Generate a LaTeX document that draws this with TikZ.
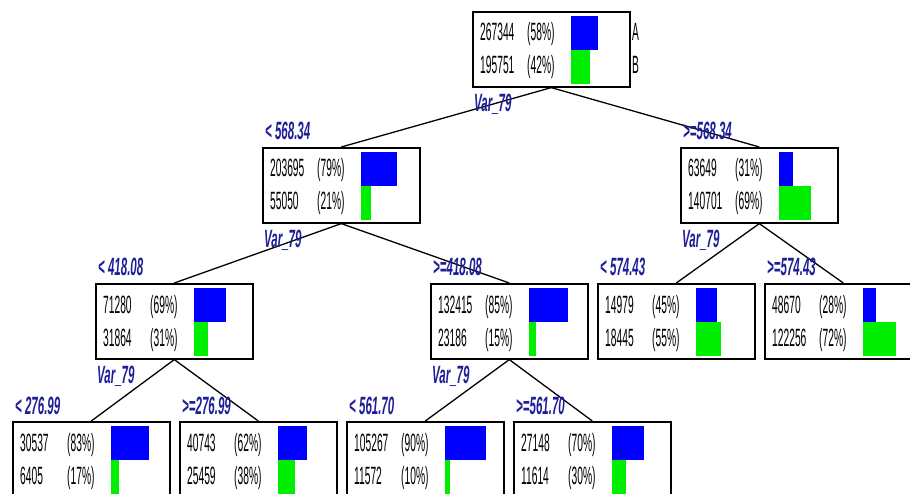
\documentclass[tikz,border=0pt]{standalone}
\usepackage{fontspec}
\setmainfont{Liberation Sans}
\newfontfamily\cntfont[FakeStretch=0.41]{Liberation Sans}
\newfontfamily\splitfont[FakeStretch=0.46]{Liberation Sans}
\usetikzlibrary{calc}
\definecolor{splitblue}{RGB}{30,30,150}
\definecolor{barblue}{RGB}{0,0,255}
\definecolor{bargreen}{RGB}{0,238,0}
\tikzset{
  treebox/.style={draw, line width=1.6pt, anchor=north west, minimum width=157pt, minimum height=75pt, inner sep=0pt},
  cnt/.style={anchor=base west, inner sep=0pt, font=\cntfont\fontsize{25}{27}\selectfont},
  split/.style={anchor=base west, inner sep=0pt, text=splitblue, font=\splitfont\fontsize{25}{27}\selectfont\bfseries\itshape},
  edge/.style={line width=1.3pt}
}
% box with two counts, two percents and the bars
\def\treebox(#1)(#2,#3)#4#5#6#7{
  \node[treebox] (#1) at (#2,#3) {};
  \node[cnt] (#1a) at (#2+8,#3+30) {#4};
  \node[cnt] (#1ap) at (#2+55,#3+30) {(#5\%)};
  \node[cnt] (#1b) at (#2+8,#3+63) {#6};
  \node[cnt] (#1bp) at (#2+55,#3+63) {(#7\%)};
  \fill[barblue] (#2+99,#3+5) rectangle ++(0.46*#5,34);
  \fill[bargreen] (#2+99,#3+39) rectangle ++(0.46*#7,34);
}

\begin{document}
\begin{tikzpicture}[x=1pt,y=-1pt]
  \clip (0,0) rectangle (910,494);
  \fill[white] (0,0) rectangle (910,494);
  %%%%% BOXES %%%%%
  \treebox(root)(472,11){267344}{58}{195751}{42}
  \node[cnt] (rootA) at (632,41) {A};
  \node[cnt] (rootB) at (632,74) {B};

  \treebox(n1)(262,147){203695}{79}{55050}{21}
  \treebox(n2)(680,147){63649}{31}{140701}{69}

  \treebox(n3)(95,283){71280}{69}{31864}{31}
  \treebox(n4)(430,283){132415}{85}{23186}{15}
  \treebox(n5)(597,283){14979}{45}{18445}{55}
  \treebox(n6)(764,283){48670}{28}{122256}{72}

  \treebox(n7)(12,421){30537}{83}{6405}{17}
  \treebox(n8)(179,421){40743}{62}{25459}{38}
  \treebox(n9)(346,421){105267}{90}{11572}{10}
  \treebox(n10)(513,421){27148}{70}{11614}{30}

  %%%%% EDGES %%%%%
  \draw[edge] (root.south) -- (n1.north);
  \draw[edge] (root.south) -- (n2.north);
  \draw[edge] (n1.south) -- (n3.north);
  \draw[edge] (n1.south) -- (n4.north);
  \draw[edge] (n2.south) -- (n5.north);
  \draw[edge] (n2.south) -- (n6.north);
  \draw[edge] (n3.south) -- (n7.north);
  \draw[edge] (n3.south) -- (n8.north);
  \draw[edge] (n4.south) -- (n9.north);
  \draw[edge] (n4.south) -- (n10.north);

  %%%%% SPLITS %%%%%
  \node[split] (rootvar) at ([shift={(2,24)}]root.south west) {Var\_79};
  \node[split] (n1var) at ([shift={(2,24)}]n1.south west) {Var\_79};
  \node[split] (n2var) at ([shift={(2,24)}]n2.south west) {Var\_79};
  \node[split] (n3var) at ([shift={(2,24)}]n3.south west) {Var\_79};
  \node[split] (n4var) at ([shift={(2,24)}]n4.south west) {Var\_79};

  \node[split] (n1cond) at ([shift={(3,-7)}]n1.north west) {< 568.34};
  \node[split] (n2cond) at ([shift={(3,-7)}]n2.north west) {>=568.34};
  \node[split] (n3cond) at ([shift={(3,-7)}]n3.north west) {< 418.08};
  \node[split] (n4cond) at ([shift={(3,-7)}]n4.north west) {>=418.08};
  \node[split] (n5cond) at ([shift={(3,-7)}]n5.north west) {< 574.43};
  \node[split] (n6cond) at ([shift={(3,-7)}]n6.north west) {>=574.43};
  \node[split] (n7cond) at ([shift={(3,-7)}]n7.north west) {< 276.99};
  \node[split] (n8cond) at ([shift={(3,-7)}]n8.north west) {>=276.99};
  \node[split] (n9cond) at ([shift={(3,-7)}]n9.north west) {< 561.70};
  \node[split] (n10cond) at ([shift={(3,-7)}]n10.north west) {>=561.70};
\end{tikzpicture}
\end{document}
